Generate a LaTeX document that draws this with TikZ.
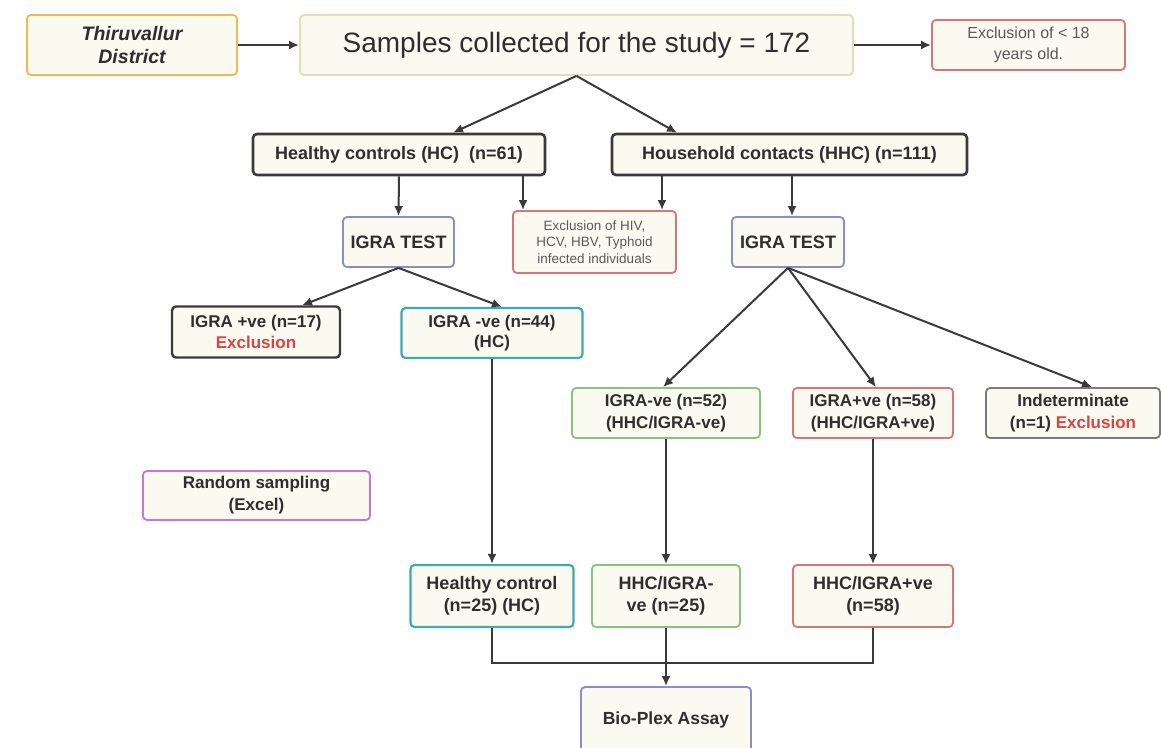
\documentclass[tikz,border=0pt]{standalone}
\usepackage{fontspec}
\setmainfont{Liberation Sans}
\usetikzlibrary{arrows.meta}
\definecolor{cream}{HTML}{FBFAF0}
\definecolor{txt}{HTML}{2E2E2E}
\definecolor{graytxt}{HTML}{5A5A5A}
\definecolor{exred}{HTML}{D24848}
\definecolor{corange}{HTML}{F0B850}
\definecolor{ctan}{HTML}{E6DDB4}
\definecolor{cred}{HTML}{D87676}
\definecolor{cdark}{HTML}{3A3A3A}
\definecolor{cpurple}{HTML}{8A8CCB}
\definecolor{cteal}{HTML}{3FAAAE}
\definecolor{cgreen}{HTML}{86C57C}
\definecolor{cgray}{HTML}{7A7A7A}
\definecolor{cmag}{HTML}{D274C6}
\newcommand{\fs}[2]{\fontsize{#1}{#2}\selectfont}
\tikzset{
  bx/.style={draw, fill=cream, rounded corners=4pt, line width=1.8pt, align=center, inner sep=0pt, text=txt},
  arr/.style={draw=cdark, line width=2pt, -{Latex[length=10pt,width=9pt]}},
  ln/.style={draw=cdark, line width=2pt},
}
\begin{document}
\begin{tikzpicture}[x=1pt,y=-1pt]
\useasboundingbox (0,0) rectangle (1161,747);
% top row
\node[bx, draw=corange, minimum width=210pt, minimum height=60pt, font=\bfseries\itshape\fs{19.5}{23}] (thir) at (132,45) {Thiruvallur\\District};
\node[bx, draw=ctan, minimum width=553pt, minimum height=60pt, font=\fs{28}{32}] (samp) at (576.5,45) {Samples collected for the study = 172};
\node[bx, draw=cred, minimum width=193pt, minimum height=50pt, text=graytxt, font=\fs{16}{21}] (ex18) at (1028.5,45) {Exclusion of < 18\\years old.};
% second row
\node[bx, draw=cdark, line width=2.6pt, minimum width=292pt, minimum height=41pt, font=\bfseries\fs{18}{21}] (hc) at (399,154.5) {Healthy controls (HC)~~(n=61)};
\node[bx, draw=cdark, line width=2.6pt, minimum width=355pt, minimum height=41pt, font=\bfseries\fs{18}{21}] (hhc) at (789.5,154.5) {Household contacts (HHC) (n=111)};
% third row
\node[bx, draw=cpurple, minimum width=111pt, minimum height=50pt, font=\bfseries\fs{18}{21}] (igL) at (398.5,242) {IGRA TEST};
\node[bx, draw=cred, minimum width=163pt, minimum height=62pt, text=graytxt, font=\fs{13.5}{16.5}] (exhiv) at (594.5,242) {Exclusion of HIV,\\HCV, HBV, Typhoid\\infected individuals};
\node[bx, draw=cpurple, minimum width=112pt, minimum height=50pt, font=\bfseries\fs{18}{21}] (igR) at (788,242) {IGRA TEST};
% fourth row
\node[bx, draw=cdark, line width=2.4pt, minimum width=168pt, minimum height=51pt, font=\bfseries\fs{17}{20.5}] (p17) at (256,332) {IGRA +ve (n=17)\\\textcolor{exred}{Exclusion}};
\node[bx, draw=cteal, line width=2.2pt, minimum width=181pt, minimum height=50pt, font=\bfseries\fs{17}{20.5}] (n44) at (492,333) {IGRA -ve (n=44)\\(HC)};
% fifth row
\node[bx, draw=cgreen, minimum width=188pt, minimum height=50pt, font=\bfseries\fs{17}{22}] (n52) at (666,413) {IGRA-ve (n=52)\\(HHC/IGRA-ve)};
\node[bx, draw=cred, minimum width=160pt, minimum height=50pt, font=\bfseries\fs{17}{22}] (p58) at (873,413) {IGRA+ve (n=58)\\(HHC/IGRA+ve)};
\node[bx, draw=cgray, minimum width=174pt, minimum height=50pt, font=\bfseries\fs{17}{22}] (ind) at (1073,413) {Indeterminate\\(n=1) \textcolor{exred}{Exclusion}};
\node[bx, draw=cmag, minimum width=227pt, minimum height=49pt, font=\bfseries\fs{17}{22}] (rand) at (256.5,495.5) {Random sampling\\(Excel)};
% sixth row
\node[bx, draw=cteal, line width=2.2pt, minimum width=163pt, minimum height=62pt, font=\bfseries\fs{18}{22}] (hcf) at (492,596) {Healthy control\\(n=25) (HC)};
\node[bx, draw=cgreen, minimum width=148pt, minimum height=62pt, font=\bfseries\fs{18}{22}] (negf) at (666,596) {HHC/IGRA-\\ve (n=25)};
\node[bx, draw=cred, minimum width=160pt, minimum height=62pt, font=\bfseries\fs{18}{22}] (posf) at (873,596) {HHC/IGRA+ve\\(n=58)};
\node[bx, draw=cpurple, minimum width=170pt, minimum height=66pt, font=\bfseries\fs{17.5}{21}] (bio) at (666,720) {Bio-Plex Assay};
% connectors
\draw[arr] (thir.east) -- (samp.west);
\draw[arr] (samp.east) -- (ex18.west);
\draw[arr] (samp.south) -- (453,0 |- hc.north);
\draw[arr] (samp.south) -- (677,0 |- hhc.north);
\draw[arr] (399,0 |- hc.south) -- (igL.north);
\draw[arr] (523,0 |- hc.south) -- (523,0 |- exhiv.north);
\draw[arr] (662,0 |- hhc.south) -- (662,0 |- exhiv.north);
\draw[arr] (792,0 |- hhc.south) -- (792,0 |- igR.north);
\draw[arr] (igL.south) -- (302,0 |- p17.north);
\draw[arr] (igL.south) -- (502,0 |- n44.north);
\draw[arr] (igR.south) -- (663,0 |- n52.north);
\draw[arr] (igR.south) -- (876,0 |- p58.north);
\draw[arr] (igR.south) -- (1092,0 |- ind.north);
\draw[arr] (n44.south) -- (n44.south |- hcf.north);
\draw[arr] (n52.south) -- (negf.north);
\draw[arr] (p58.south) -- (posf.north);
\draw[ln] (hcf.south) -- ++(0,35) -| (posf.south);
\draw[arr] (negf.south) -- (bio.north);
\end{tikzpicture}
\end{document}
